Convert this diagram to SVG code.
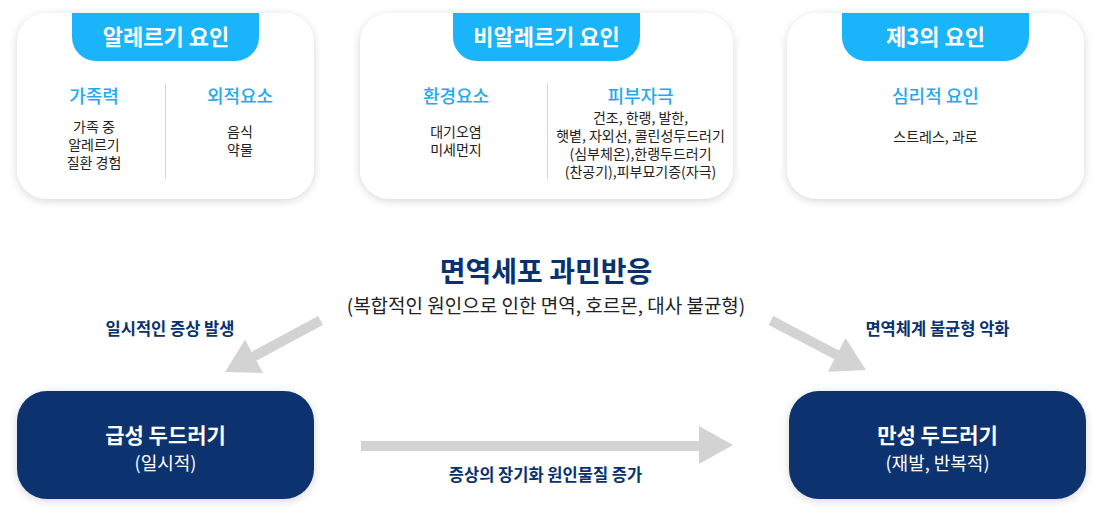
<svg xmlns="http://www.w3.org/2000/svg" width="1100" height="512" viewBox="0 0 1100 512">
<defs>
<filter id="sh" x="-10%" y="-10%" width="120%" height="125%">
<feDropShadow dx="0" dy="2" stdDeviation="4" flood-color="#000" flood-opacity="0.16"/>
</filter>
<style>
text{font-family:"Noto Sans CJK KR","Noto Sans",sans-serif;text-anchor:middle}
.card{fill:#fff}
.tab{fill:#1ab4fa}
.tabt{fill:#fff;font-size:22px;font-weight:700}
.h{fill:#1eaaf0;font-size:18px;font-weight:500}
.b{fill:#222;font-size:14px}
.div{stroke:#d6d6d6;stroke-width:1}
.nt{fill:#08326f;font-size:16.5px;font-weight:700}
.box{fill:#08326f}
.bt{fill:#fff;font-size:21px;font-weight:700}
.bs{fill:#fff;font-size:18px}
.arr{fill:#d3d3d3}
</style>
</defs>
<rect width="1100" height="512" fill="#fff"/>

<g id="allergy">
<rect class="card" x="17" y="13" width="297" height="186" rx="30" filter="url(#sh)"/>
<path class="tab" d="M72,13H259V37A24,24 0 0 1 235,61H96A24,24 0 0 1 72,37Z"/>
<text class="tabt" x="166" y="45">알레르기 요인</text>
<line class="div" x1="165.5" y1="83" x2="165.5" y2="179"/>
<text class="h" x="94" y="102.5">가족력</text>
<text class="b" x="94" y="131.5">가족 중</text>
<text class="b" x="94" y="149.5">알레르기</text>
<text class="b" x="94" y="167.5">질환 경험</text>
<text class="h" x="240" y="102.5">외적요소</text>
<text class="b" x="240" y="136.5">음식</text>
<text class="b" x="240" y="154.5">약물</text>
</g>

<g id="nonallergy">
<rect class="card" x="360" y="13" width="373" height="186" rx="30" filter="url(#sh)"/>
<path class="tab" d="M453,13H640V37A24,24 0 0 1 616,61H477A24,24 0 0 1 453,37Z"/>
<text class="tabt" x="546.5" y="45">비알레르기 요인</text>
<line class="div" x1="547.5" y1="83" x2="547.5" y2="179"/>
<text class="h" x="456" y="102.5">환경요소</text>
<text class="b" x="456" y="137">대기오염</text>
<text class="b" x="456" y="155">미세먼지</text>
<text class="h" x="640.5" y="102.5">피부자극</text>
<text class="b" x="640.5" y="123">건조, 한랭, 발한,</text>
<text class="b" x="640.5" y="141">햇볕, 자외선, 콜린성두드러기</text>
<text class="b" x="640.5" y="159">(심부체온),한랭두드러기</text>
<text class="b" x="640.5" y="177">(찬공기),피부묘기증(자극)</text>
</g>

<g id="third">
<rect class="card" x="787" y="13" width="297" height="186" rx="30" filter="url(#sh)"/>
<path class="tab" d="M842,13H1029V37A24,24 0 0 1 1005,61H866A24,24 0 0 1 842,37Z"/>
<text class="tabt" x="935.5" y="45">제3의 요인</text>
<text class="h" x="935.5" y="102.5">심리적 요인</text>
<text class="b" x="935.5" y="142">스트레스, 과로</text>
</g>

<g id="center">
<text x="546" y="282" style="fill:#08326f;font-size:28px;font-weight:700">면역세포 과민반응</text>
<text x="546" y="312.5" style="fill:#222;font-size:19px">(복합적인 원인으로 인한 면역, 호르몬, 대사 불균형)</text>
</g>

<g id="acute">
<rect class="box" x="17" y="391" width="297" height="108" rx="30" filter="url(#sh)"/>
<text class="bt" x="165.5" y="442.5">급성 두드러기</text>
<text class="bs" x="165.5" y="469.5">(일시적)</text>
</g>

<g id="chronic">
<rect class="box" x="789" y="391" width="297" height="108" rx="30" filter="url(#sh)"/>
<text class="bt" x="937.5" y="442.5">만성 두드러기</text>
<text class="bs" x="937.5" y="469.5">(재발, 반복적)</text>
</g>

<g id="connectors">
<polygon class="arr" points="318.1,316.1 322.9,324.9 256.4,360.7 263,373 225,372 245,339.6 251.6,351.9"/>
<polygon class="arr" points="773.3,316.1 839,350.4 845.5,337.9 866,370 827.9,371.7 834.4,359.2 768.7,324.9"/>
<polygon class="arr" points="361,441 699,441 699,426 733,445 699,464 699,451 361,451"/>
<text class="nt" x="170" y="335">일시적인 증상 발생</text>
<text class="nt" x="937.5" y="335">면역체계 불균형 악화</text>
<text class="nt" x="545.5" y="481">증상의 장기화 원인물질 증가</text>
</g>
</svg>
